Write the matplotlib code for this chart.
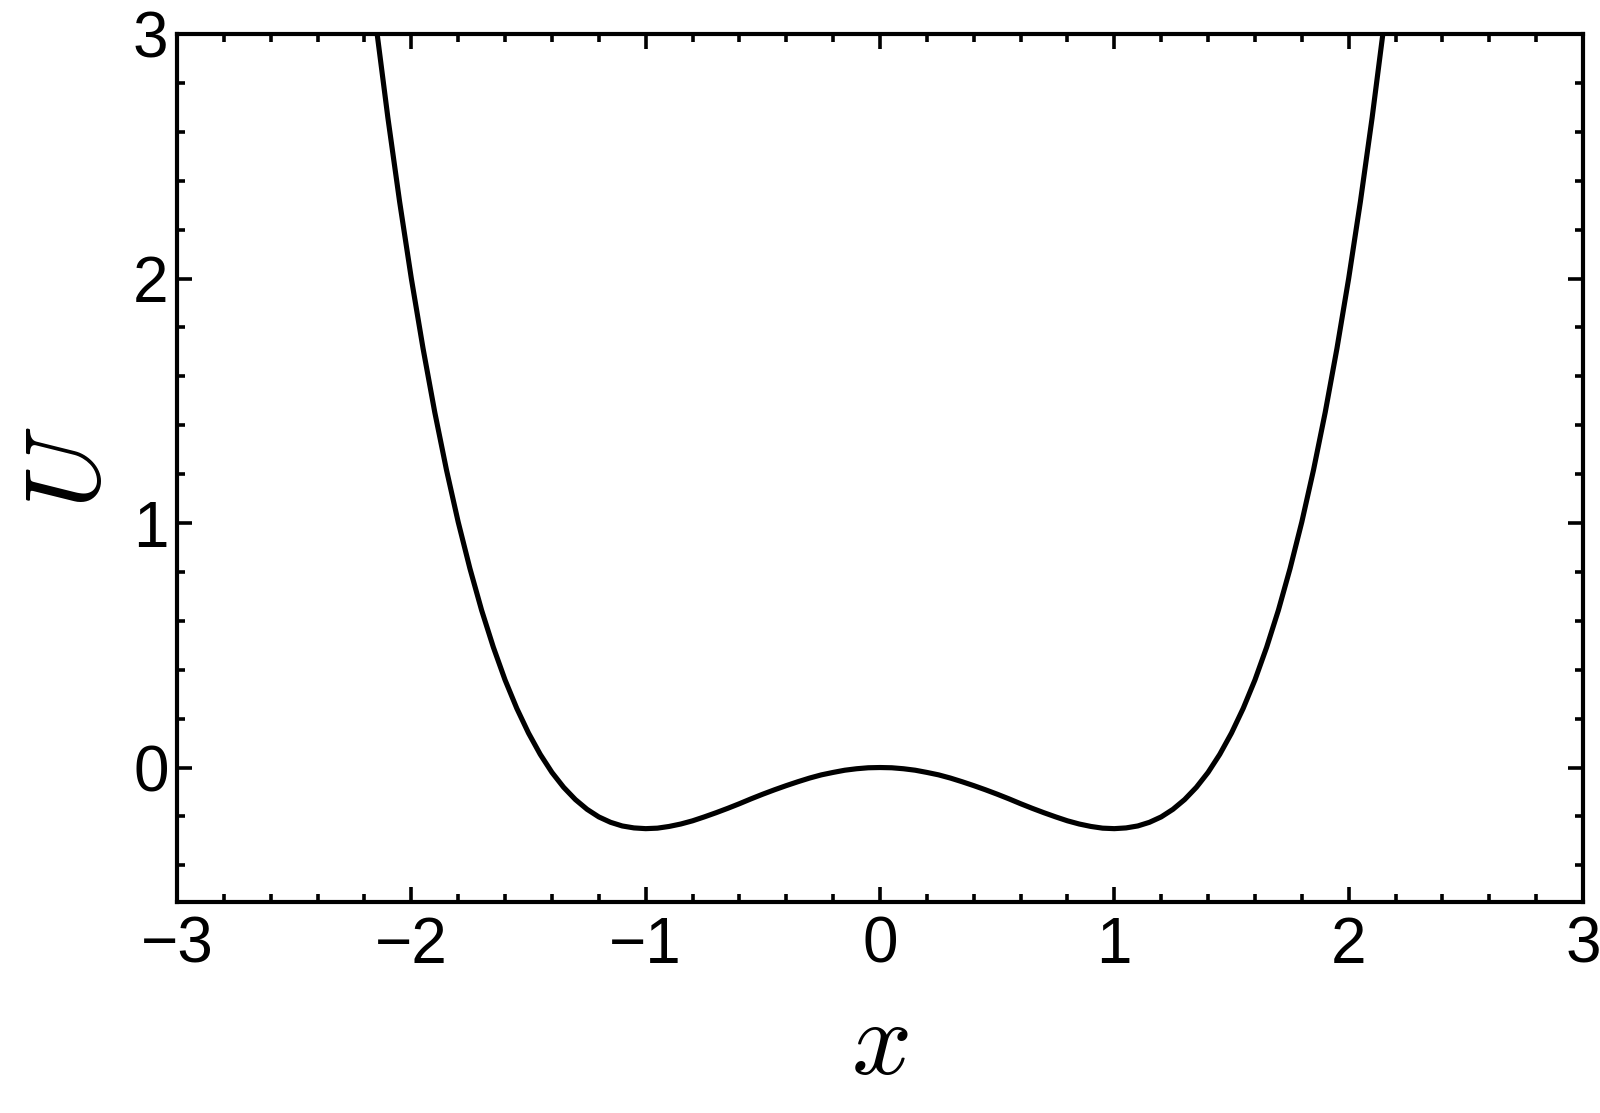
import matplotlib.pyplot as plt
from matplotlib.ticker import MultipleLocator

# potential curve
x_vals = [-2.2, -2.15, -2.1, -2.05, -2.0, -1.95, -1.9, -1.85, -1.8, -1.75, -1.7, -1.65,
          -1.6, -1.55, -1.5, -1.45, -1.4, -1.35, -1.3, -1.25, -1.2, -1.15, -1.1, -1.05,
          -1.0, -0.95, -0.9, -0.85, -0.8, -0.75, -0.7, -0.65, -0.6, -0.55, -0.5, -0.45,
          -0.4, -0.35, -0.3, -0.25, -0.2, -0.15, -0.1, -0.05, 0.0,
          0.05, 0.1, 0.15, 0.2, 0.25, 0.3, 0.35, 0.4, 0.45, 0.5, 0.55, 0.6,
          0.65, 0.7, 0.75, 0.8, 0.85, 0.9, 0.95, 1.0, 1.05, 1.1, 1.15, 1.2,
          1.25, 1.3, 1.35, 1.4, 1.45, 1.5, 1.55, 1.6, 1.65, 1.7, 1.75, 1.8,
          1.85, 1.9, 1.95, 2.0, 2.05, 2.1, 2.15, 2.2]
u_vals = [3.436, 3.031, 2.657, 2.314, 2.0, 1.714, 1.453, 1.217, 1.004, 0.814, 0.643, 0.492,
          0.358, 0.242, 0.141, 0.054, -0.020, -0.081, -0.131, -0.171, -0.202, -0.224, -0.239, -0.247,
          -0.25, -0.248, -0.241, -0.231, -0.218, -0.202, -0.185, -0.167, -0.148, -0.128, -0.109, -0.091,
          -0.074, -0.058, -0.043, -0.030, -0.020, -0.011, -0.005, -0.001, 0.0,
          -0.001, -0.005, -0.011, -0.020, -0.030, -0.043, -0.058, -0.074, -0.091, -0.109, -0.128, -0.148,
          -0.167, -0.185, -0.202, -0.218, -0.231, -0.241, -0.248, -0.25, -0.247, -0.239, -0.224, -0.202,
          -0.171, -0.131, -0.081, -0.020, 0.054, 0.141, 0.242, 0.358, 0.492, 0.643, 0.814, 1.004,
          1.217, 1.453, 1.714, 2.0, 2.314, 2.657, 3.031, 3.436]
x_ticks = [-3, -2, -1, 0, 1, 2, 3]
y_ticks = [0, 1, 2, 3]

plt.rcParams['mathtext.fontset'] = 'cm'
plt.rcParams['font.family'] = ['Liberation Sans', 'DejaVu Sans']

fig = plt.figure(figsize=(16, 11.13), dpi=100)
ax = fig.add_axes([177 / 1600, 1 - 902 / 1113, (1583 - 177) / 1600, (902 - 34) / 1113])

ax.plot(x_vals, u_vals, color='black', lw=3.7, solid_joinstyle='round')

ax.set_xlim(-3, 3)
ax.set_ylim(-0.55, 3)
ax.set_xticks(x_ticks)
ax.set_yticks(y_ticks)
ax.xaxis.set_minor_locator(MultipleLocator(0.2))
ax.yaxis.set_minor_locator(MultipleLocator(0.2))

ax.tick_params(which='both', direction='in', top=True, right=True, width=2.6, color='black')
ax.tick_params(which='major', length=11, labelsize=46, pad=10)
ax.tick_params(which='minor', length=6)
ax.tick_params(axis='y', pad=6)
for sp in ax.spines.values():
    sp.set_linewidth(3.0)

ax.set_xlabel('$x$', fontsize=76, labelpad=15)
ax.set_ylabel('$U$', fontsize=76, labelpad=8)

fig.savefig('out.png', dpi=100)
